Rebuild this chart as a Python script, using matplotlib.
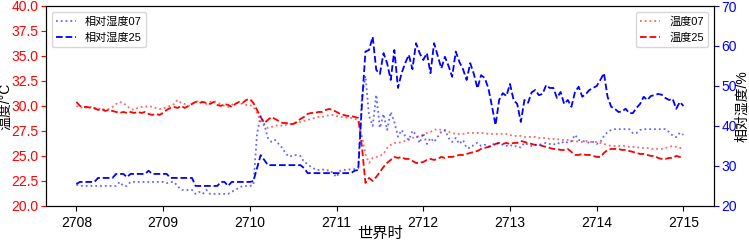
import numpy as np
import matplotlib
matplotlib.use("Agg")
import matplotlib.pyplot as plt

plt.rcParams["font.family"] = ["Liberation Sans", "Noto Sans CJK SC"]
plt.rcParams["axes.unicode_minus"] = False

# hourly samples, 2708 .. 2715
t = 2708 + np.arange(169) / 24.0

temp07 = [
    30.0, 29.8, 29.9, 29.8, 29.9, 29.7, 29.8, 29.6, 29.7, 29.7, 29.9, 30.2,
    30.4, 30.3, 30.0, 29.7, 29.6, 29.8, 29.9, 29.9, 30.0, 29.9, 29.8, 29.7,
    29.7, 29.9, 30.0, 30.2, 30.6, 30.3, 30.2, 30.0, 30.2, 30.4, 30.5, 30.4,
    30.2, 30.4, 30.5, 30.3, 30.2, 30.0, 29.9, 30.1, 30.3, 30.3, 30.2, 30.1,
    30.1, 29.9, 29.3, 28.5, 28.0, 27.8, 27.9, 28.0, 28.1, 28.0, 28.1, 28.2,
    28.2, 28.3, 28.4, 28.5, 28.6, 28.7, 28.8, 28.9, 28.9, 29.0, 29.1, 29.1,
    29.0, 28.9, 28.9, 28.8, 28.8, 28.7, 28.6, 27.0, 25.2, 24.3, 24.8, 24.9,
    25.0, 25.2, 25.8, 26.1, 26.3, 26.3, 26.4, 26.5, 26.6, 26.8, 26.9, 27.0,
    27.1, 27.3, 27.4, 27.6, 27.7, 27.6, 27.5, 27.4, 27.3, 27.2, 27.2, 27.2,
    27.3, 27.3, 27.3, 27.3, 27.3, 27.3, 27.2, 27.2, 27.2, 27.2, 27.2, 27.2,
    27.1, 27.0, 27.0, 27.0, 26.9, 26.9, 26.9, 26.9, 26.8, 26.8, 26.8, 26.7,
    26.7, 26.7, 26.6, 26.6, 26.6, 26.5, 26.5, 26.4, 26.4, 26.5, 26.4, 26.4,
    26.4, 26.3, 26.2, 26.1, 26.0, 26.0, 26.0, 26.0, 26.0, 25.9, 25.9, 25.9,
    25.8, 25.8, 25.8, 25.7, 25.7, 25.7, 25.7, 25.8, 25.9, 26.0, 25.9, 25.8,
    25.7,
]

temp25 = [
    30.4, 30.0, 29.9, 29.9, 29.8, 29.8, 29.6, 29.7, 29.5, 29.6, 29.5, 29.4,
    29.3, 29.4, 29.3, 29.4, 29.3, 29.4, 29.3, 29.4, 29.2, 29.1, 29.2, 29.1,
    29.3, 29.6, 29.8, 29.9, 29.8, 30.0, 29.8, 30.0, 30.2, 30.4, 30.3, 30.4,
    30.3, 30.2, 30.4, 30.1, 30.0, 30.2, 30.1, 29.9, 30.2, 30.4, 30.3, 30.6,
    30.7, 30.3, 29.6, 28.9, 28.3, 28.6, 28.9, 28.7, 28.5, 28.3, 28.3, 28.2,
    28.2, 28.4, 28.7, 28.9, 29.2, 29.3, 29.3, 29.4, 29.4, 29.6, 29.7, 29.6,
    29.4, 29.2, 29.1, 29.0, 29.0, 28.9, 28.8, 26.0, 22.3, 22.8, 22.5, 22.9,
    23.4, 23.9, 24.3, 24.6, 24.9, 24.8, 24.9, 24.7, 24.7, 24.5, 24.3, 24.3,
    24.4, 24.6, 24.7, 24.6, 24.7, 24.9, 24.8, 24.9, 24.9, 25.0, 25.1, 25.1,
    25.2, 25.3, 25.4, 25.5, 25.7, 25.8, 25.9, 26.0, 26.2, 26.3, 26.2, 26.3,
    26.2, 26.3, 26.3, 26.5, 26.4, 26.3, 26.2, 26.1, 26.1, 26.0, 25.9, 25.8,
    25.7, 25.7, 25.6, 25.6, 25.7, 25.4, 25.1, 25.1, 25.2, 25.1, 25.1, 25.0,
    24.9, 24.9, 25.3, 25.6, 25.7, 25.7, 25.7, 25.6, 25.6, 25.5, 25.4, 25.3,
    25.2, 25.2, 25.1, 25.0, 25.0, 24.8, 24.7, 24.7, 24.8, 24.8, 25.0, 24.9,
    24.9,
]

rh07 = [
    25.3, 25.0, 25.0, 25.0, 25.0, 25.0, 25.0, 25.0, 25.0, 25.0, 25.0, 25.0,
    26.0, 25.0, 25.0, 26.0, 26.0, 26.0, 26.0, 26.0, 26.0, 26.0, 26.0, 26.0,
    26.0, 25.7, 26.0, 26.0, 25.0, 24.0, 24.0, 24.0, 24.0, 23.0, 23.5, 23.0,
    24.0, 23.0, 23.0, 23.0, 23.0, 23.0, 23.0, 23.5, 24.0, 24.5, 25.0, 25.0,
    25.0, 25.2, 38.0, 42.5, 40.5, 37.0, 36.0, 36.5, 35.5, 34.5, 33.0, 32.3,
    32.7, 32.7, 32.5, 31.0, 30.5, 29.7, 29.2, 29.0, 29.2, 28.8, 29.0, 28.2,
    27.2, 28.8, 29.0, 29.0, 29.2, 29.2, 29.4, 47.0, 52.5, 42.5, 40.0, 47.8,
    39.5, 43.0, 39.0, 43.5, 41.0, 37.3, 39.0, 37.5, 36.5, 38.8, 37.8, 35.7,
    38.2, 35.5, 37.0, 36.0, 37.3, 38.5, 39.0, 37.0, 36.0, 37.0, 35.5, 36.5,
    34.5, 34.5, 35.3, 35.8, 35.0, 35.3, 34.8, 35.2, 35.8, 35.5, 35.3, 35.0,
    35.3, 34.8, 35.0, 34.6, 35.8, 35.3, 35.0, 35.3, 35.3, 35.5, 35.8, 35.5,
    35.3, 35.8, 35.5, 36.2, 35.8, 36.2, 37.8, 36.5, 36.3, 36.0, 35.8, 36.0,
    35.5, 36.0, 37.5, 38.5, 39.0, 39.2, 39.2, 39.2, 39.2, 39.2, 38.2, 38.2,
    39.0, 39.2, 39.2, 39.2, 39.2, 39.2, 39.2, 39.2, 38.5, 37.6, 37.2, 38.3,
    37.8,
]

rh25 = [
    25.5, 26.0, 26.0, 26.0, 26.0, 26.0, 27.0, 27.0, 27.0, 27.0, 27.0, 28.0,
    28.0, 28.0, 27.2, 28.0, 28.0, 28.0, 28.0, 28.0, 28.8, 28.0, 28.0, 28.0,
    28.0, 28.0, 27.0, 27.0, 27.0, 27.0, 27.0, 27.0, 27.0, 25.0, 25.0, 25.0,
    25.0, 25.0, 25.0, 25.0, 26.0, 26.0, 25.0, 26.0, 26.0, 26.0, 26.0, 26.0,
    26.0, 26.2, 29.5, 32.7, 31.5, 30.2, 30.2, 30.2, 30.2, 30.2, 30.2, 30.2,
    30.2, 30.2, 30.2, 29.5, 28.2, 28.2, 28.2, 28.2, 28.2, 28.2, 28.2, 28.2,
    28.2, 28.2, 28.2, 28.2, 28.2, 28.8, 29.0, 45.0, 58.6, 59.0, 62.3, 54.0,
    53.0, 58.2, 55.7, 51.5, 59.0, 49.5, 53.2, 55.7, 57.8, 54.2, 60.7, 58.2,
    56.5, 58.2, 53.2, 60.7, 57.5, 54.4, 57.3, 55.0, 52.3, 58.6, 56.0, 54.2,
    51.5, 55.7, 53.0, 49.4, 52.7, 52.0, 49.5, 45.0, 40.2, 46.5, 48.2, 47.5,
    50.5, 46.5, 45.5, 41.0, 46.5, 45.8, 48.4, 49.0, 47.7, 48.0, 50.2, 49.5,
    49.5, 47.0, 48.5, 45.5, 46.5, 44.8, 48.5, 49.8, 47.3, 48.0, 49.0, 49.5,
    50.0, 51.5, 53.2, 47.3, 44.8, 44.3, 43.5, 43.6, 44.3, 43.2, 43.2, 44.5,
    45.5, 47.3, 46.5, 47.5, 47.7, 48.0, 47.8, 47.0, 46.5, 46.8, 44.3, 46.0,
    45.0,
]

xticks = [2708, 2709, 2710, 2711, 2712, 2713, 2714, 2715]

fig = plt.figure(figsize=(7.49, 2.40), dpi=100)
ax = fig.add_axes([0.0614, 0.142, 0.8916, 0.833])
ax2 = ax.twinx()

# temperature on the left axis
ax.plot(t, temp07, color="red", linestyle=":", alpha=0.6, linewidth=1.3, label="温度07")
ax.plot(t, temp25, color="red", linestyle="--", linewidth=1.3, label="温度25")
ax.set_ylim(20, 40)
ax.set_yticks(np.arange(20, 40.1, 2.5))
ax.set_ylabel("温度/°C", fontsize=10)
ax.yaxis.set_label_coords(-0.05, 0.5)
ax.tick_params(axis="y", colors="red", labelsize=10, pad=2)
ax.tick_params(axis="x", labelsize=10)
ax.set_xticks(xticks)
ax.set_xticklabels([str(x) for x in xticks])
ax.set_xlabel("世界时", fontsize=11, labelpad=-2)
ax.legend(loc="upper right", fontsize=8, handlelength=1.8)

# relative humidity on the right axis
ax2.plot(t, rh07, color="blue", linestyle=":", alpha=0.6, linewidth=1.3, label="相对湿度07")
ax2.plot(t, rh25, color="blue", linestyle="--", linewidth=1.3, label="相对湿度25")
ax2.set_ylim(20, 70)
ax2.set_ylabel("相对湿度/%", fontsize=10)
ax2.yaxis.set_label_coords(1.033, 0.5)
ax2.tick_params(axis="y", colors="blue", labelsize=10, pad=2)
ax2.legend(loc="upper left", fontsize=8, handlelength=1.8)

ax.set_xlim(2707.65, 2715.35)

fig.savefig("out.png", dpi=100)
